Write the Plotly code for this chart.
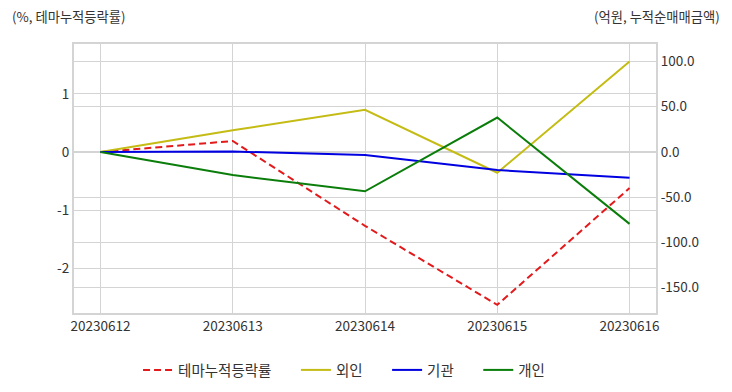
import plotly.graph_objects as go

dates = ["20230612", "20230613", "20230614", "20230615", "20230616"]
theme_rate = [0.0, 0.19, -1.27, -2.63, -0.62]
foreign = [0.0, 24.0, 46.5, -23.0, 100.0]
institution = [0.0, 0.5, -3.5, -20.0, -28.5]
individual = [0.0, -25.5, -43.5, 38.0, -79.5]

left_ticks = [-2, -1, 0, 1]
right_ticks = [-150, -100, -50, 0, 50, 100]

FONT = "Noto Sans CJK KR, Malgun Gothic, sans-serif"
GRID = "#d4d4d4"
TXT = "#333333"
PAD = "\u00a0" * 6

fig = go.Figure()
fig.add_trace(go.Scatter(x=dates, y=theme_rate, name="테마누적등락률" + PAD, mode="lines",
                         line=dict(color="#e31a1c", width=2, dash="7px,4px"), yaxis="y"))
fig.add_trace(go.Scatter(x=dates, y=foreign, name="외인" + PAD, mode="lines",
                         line=dict(color="#c4bc14", width=2), yaxis="y2"))
fig.add_trace(go.Scatter(x=dates, y=institution, name="기관" + PAD, mode="lines",
                         line=dict(color="#0000e0", width=2), yaxis="y2"))
fig.add_trace(go.Scatter(x=dates, y=individual, name="개인", mode="lines",
                         line=dict(color="#0a7d0a", width=2), yaxis="y2"))

fig.update_layout(
    width=724, height=384,
    margin=dict(l=66, r=76, t=36, b=79),
    paper_bgcolor="white", plot_bgcolor="white",
    font=dict(family=FONT, size=13, color=TXT),
    xaxis=dict(type="category", range=[-0.2, 4.2], showgrid=True, gridcolor=GRID, gridwidth=1,
               showline=True, linecolor=GRID, linewidth=2, mirror=True, ticks="",
               tickfont=dict(size=13.5, color=TXT), zeroline=False, automargin=False),
    yaxis=dict(range=[-2.77, 1.86], tickvals=left_ticks, ticktext=[str(v) for v in left_ticks],
               showgrid=True, gridcolor=GRID, zeroline=False, showline=True, linecolor=GRID,
               linewidth=2, ticks="", tickfont=dict(size=13.5, color=TXT), automargin=False),
    yaxis2=dict(range=[-178, 119.3], overlaying="y", side="right", tickvals=right_ticks,
                ticktext=[f"{v:.1f}" for v in right_ticks], showgrid=True, gridcolor=GRID,
                zeroline=False, showline=True, linecolor=GRID, linewidth=2, ticks="",
                tickfont=dict(size=13.5, color=TXT), automargin=False),
    legend=dict(orientation="h", x=0.464, xanchor="center", yref="container", y=0.099,
                yanchor="top", font=dict(size=14.5, color=TXT), traceorder="normal"),
    showlegend=True,
    annotations=[
        dict(text="(%, 테마누적등락률)", xref="paper", yref="paper", x=-0.110, y=1.104,
             xanchor="left", yanchor="middle", showarrow=False, font=dict(size=13.3, color=TXT)),
        dict(text="(억원, 누적순매매금액)", xref="paper", yref="paper", x=1.113, y=1.104,
             xanchor="right", yanchor="middle", showarrow=False, font=dict(size=13.3, color=TXT)),
    ],
)

fig.write_html("out.html")
